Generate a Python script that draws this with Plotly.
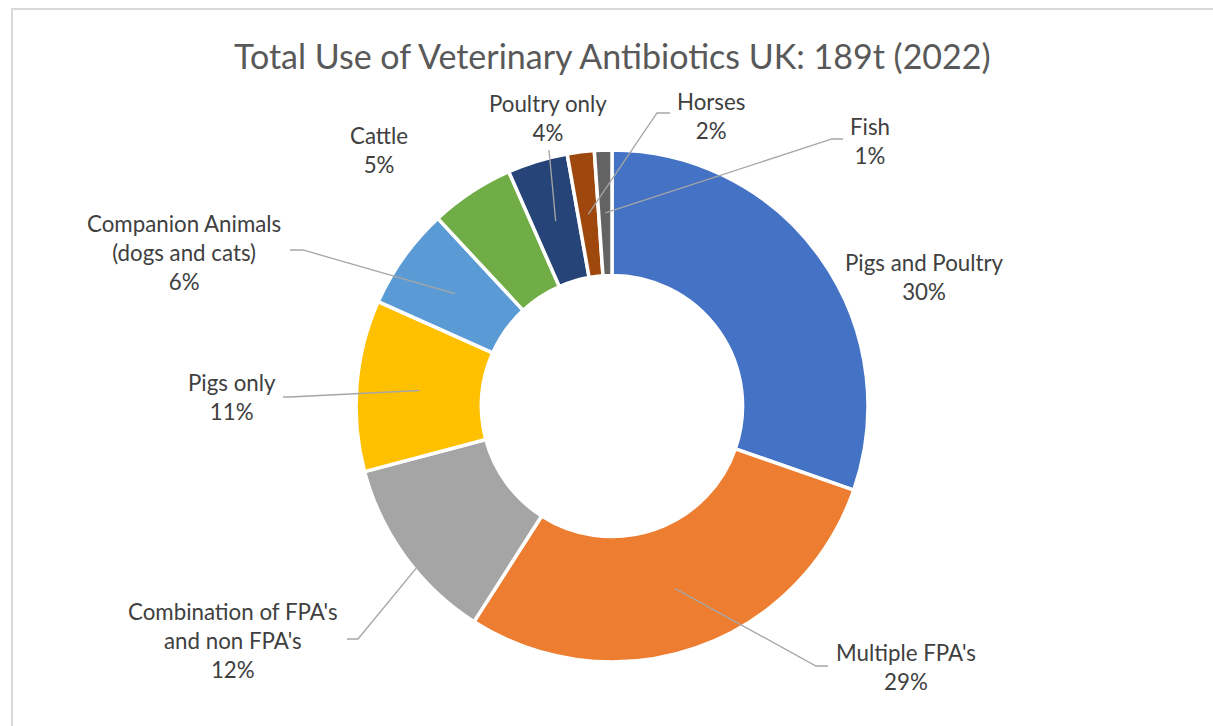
import math
import plotly.graph_objects as go

# ---- data ----
categories = ["Pigs and Poultry", "Multiple FPA's", "Combination of FPA's and non FPA's",
              "Pigs only", "Companion Animals (dogs and cats)", "Cattle",
              "Poultry only", "Horses", "Fish"]
label_text = ["Pigs and Poultry", "Multiple FPA's", "Combination of FPA's<br>and non FPA's",
              "Pigs only", "Companion Animals<br>(dogs and cats)", "Cattle",
              "Poultry only", "Horses", "Fish"]
shares = [30.3, 28.7, 11.8, 10.8, 6.4, 5.3, 3.8, 1.7, 1.1]
colors = ["#4472C4", "#ED7D31", "#A5A5A5", "#FFC000", "#5B9BD5",
          "#70AD47", "#264478", "#9E480E", "#636363"]
title = "Total Use of Veterinary Antibiotics UK: 189t (2022)"

# ---- layout constants (pixels) ----
W, H = 1213, 726
CX, CY, R_OUT, HOLE = 612, 406, 256, 0.51
R_MID = R_OUT * (1 + HOLE) / 2

# label centre, and leader elbow/end (None => no leader)
label_layout = [
    ((924, 277), None),
    ((906, 667), ((816, 666), (828, 666))),
    ((233, 640), ((358, 639), (347, 639))),
    ((232, 397), ((290, 397), (283, 397))),
    ((184, 252), ((303, 250), (290, 250))),
    ((379, 150), None),
    ((548, 118), ((549, 150), (549, 150))),
    ((711, 116), ((657, 113), (670, 113))),
    ((870, 141), ((832, 139), (843, 139))),
]

total = sum(shares)
fig = go.Figure()

fig.add_trace(go.Pie(
    labels=categories, values=shares, sort=False, direction="clockwise", rotation=0,
    hole=HOLE, textinfo="none", hoverinfo="label+percent", showlegend=False,
    marker=dict(colors=colors, line=dict(color="white", width=3.5)),
    domain=dict(x=[(CX - R_OUT) / W, (CX + R_OUT) / W],
                y=[1 - (CY + R_OUT) / H, 1 - (CY - R_OUT) / H]),
))

cum = 0.0
for i, v in enumerate(shares):
    mid = 2 * math.pi * (cum + v / 2) / total
    cum += v
    (lx, ly), leader = label_layout[i]
    pct = round(100 * v / total)
    if leader is not None:
        sx = CX + R_MID * math.sin(mid)
        sy = CY - R_MID * math.cos(mid)
        (ex, ey), (tx, ty) = leader
        fig.add_shape(type="path", xref="x", yref="y", layer="above",
                      path=f"M {sx:.2f},{sy:.2f} L {ex},{ey} L {tx},{ty}",
                      line=dict(color="#A6A6A6", width=1.3))
    fig.add_annotation(x=lx, y=ly, xref="x", yref="y", showarrow=False,
                       text=f"{label_text[i]}<br>{pct}%", align="center",
                       font=dict(family="Lato", size=22.3, color="#404040"))

fig.add_annotation(x=612, y=55, xref="x", yref="y", showarrow=False, text=title,
                   font=dict(family="Lato", size=34, color="#595959"))

fig.add_shape(type="rect", xref="x", yref="y", x0=12, y0=9, x1=W + 20, y1=H + 20,
              line=dict(color="#D9D9D9", width=2), layer="below")

fig.update_layout(
    width=W, height=H, autosize=False,
    margin=dict(l=0, r=0, t=0, b=0),
    paper_bgcolor="white", plot_bgcolor="rgba(0,0,0,0)",
    xaxis=dict(range=[0, W], visible=False, fixedrange=True),
    yaxis=dict(range=[H, 0], visible=False, fixedrange=True),
)

fig.write_html("out.html", config={"displayModeBar": False},
               post_script="document.body.style.margin='0px';")
